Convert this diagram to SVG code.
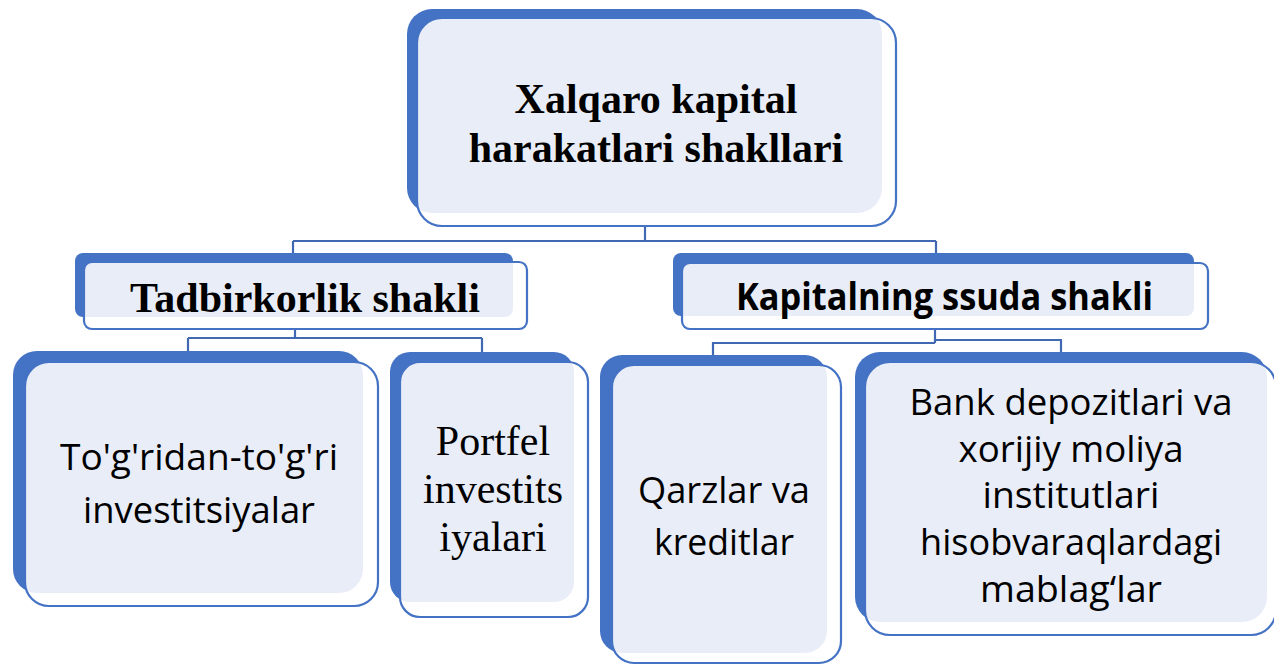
<svg xmlns="http://www.w3.org/2000/svg" width="1274" height="665" viewBox="0 0 1274 665">
  <style>
    .back { fill: #4472C4; }
    .face { fill: #FFFFFF; }
    .tint { fill: #E9EDF7; }
    .edge { fill: none; stroke: #4472C4; stroke-width: 2.2; }
    .conn { fill: none; stroke: #4169B3; stroke-width: 2.2; }
    .serifB { font-family: "Liberation Serif", "Times New Roman", serif; font-weight: bold; font-size: 42px; fill: #000; text-anchor: middle; }
    .serif { font-family: "Liberation Serif", "Times New Roman", serif; font-size: 42px; fill: #000; text-anchor: middle; }
    .sansB { font-family: "Open Sans", "Noto Sans", sans-serif; font-weight: bold; font-size: 37px; fill: #000; text-anchor: middle; }
    .sans { font-family: "Open Sans", "Noto Sans", sans-serif; font-size: 37px; fill: #000; text-anchor: middle; }
  </style>
  <defs>
    <clipPath id="c-top"><rect x="417" y="18" width="479" height="208" rx="25"/></clipPath>
    <clipPath id="c-tad"><rect x="84" y="262" width="443" height="67" rx="8"/></clipPath>
    <clipPath id="c-kap"><rect x="682" y="263" width="526" height="66" rx="8"/></clipPath>
    <clipPath id="c-tog"><rect x="25" y="362" width="353" height="244" rx="24"/></clipPath>
    <clipPath id="c-por"><rect x="400" y="362" width="188" height="255" rx="20"/></clipPath>
    <clipPath id="c-qar"><rect x="612" y="365" width="229" height="298" rx="22"/></clipPath>
    <clipPath id="c-ban"><rect x="865" y="362" width="411" height="273" rx="25"/></clipPath>
  </defs>

  <g id="connectors">
    <path class="conn" d="M645,226 V241 M293,241 H936 M293,241 V253 M936,241 V253"/>
    <path class="conn" d="M295,329 V338 M188,338 H482 M188,338 V351 M482,338 V352"/>
    <path class="conn" d="M935,329 V343 M713,355 V343 H935 M935,340 H1061 V352"/>
  </g>

  <g id="node-top">
    <rect class="back" x="407" y="9" width="475" height="204" rx="25"/>
    <rect class="face" x="417" y="18" width="479" height="208" rx="25"/>
    <rect class="tint" x="407" y="9" width="475" height="204" rx="25" clip-path="url(#c-top)"/>
    <rect class="edge" x="417" y="18" width="479" height="208" rx="25"/>
    <text class="serifB" x="656" y="113">Xalqaro kapital</text>
    <text class="serifB" x="656" y="162">harakatlari shakllari</text>
  </g>

  <g id="node-tadbirkorlik">
    <rect class="back" x="75" y="253" width="438" height="64" rx="8"/>
    <rect class="face" x="84" y="262" width="443" height="67" rx="8"/>
    <rect class="tint" x="75" y="253" width="438" height="64" rx="8" clip-path="url(#c-tad)"/>
    <rect class="edge" x="84" y="262" width="443" height="67" rx="8"/>
    <text class="serifB" x="305" y="312">Tadbirkorlik shakli</text>
  </g>

  <g id="node-kapitalning">
    <rect class="back" x="673" y="253" width="521" height="63" rx="8"/>
    <rect class="face" x="682" y="263" width="526" height="66" rx="8"/>
    <rect class="tint" x="673" y="253" width="521" height="63" rx="8" clip-path="url(#c-kap)"/>
    <rect class="edge" x="682" y="263" width="526" height="66" rx="8"/>
    <text class="sansB" x="944.5" y="310" textLength="417" lengthAdjust="spacingAndGlyphs">Kapitalning ssuda shakli</text>
  </g>

  <g id="node-togridan">
    <rect class="back" x="13" y="351" width="350" height="242" rx="24"/>
    <rect class="face" x="25" y="362" width="353" height="244" rx="24"/>
    <rect class="tint" x="13" y="351" width="350" height="242" rx="24" clip-path="url(#c-tog)"/>
    <rect class="edge" x="25" y="362" width="353" height="244" rx="24"/>
    <text class="sans" x="199" y="470" textLength="278" lengthAdjust="spacingAndGlyphs">To'g'ridan-to'g'ri</text>
    <text class="sans" x="199" y="523" textLength="232" lengthAdjust="spacingAndGlyphs">investitsiyalar</text>
  </g>

  <g id="node-portfel">
    <rect class="back" x="390" y="352" width="184" height="250" rx="20"/>
    <rect class="face" x="400" y="362" width="188" height="255" rx="20"/>
    <rect class="tint" x="390" y="352" width="184" height="250" rx="20" clip-path="url(#c-por)"/>
    <rect class="edge" x="400" y="362" width="188" height="255" rx="20"/>
    <text class="serif" x="493" y="455">Portfel</text>
    <text class="serif" x="493" y="503">investits</text>
    <text class="serif" x="493" y="551">iyalari</text>
  </g>

  <g id="node-qarzlar">
    <rect class="back" x="600" y="355" width="227" height="298" rx="22"/>
    <rect class="face" x="612" y="365" width="229" height="298" rx="22"/>
    <rect class="tint" x="600" y="355" width="227" height="298" rx="22" clip-path="url(#c-qar)"/>
    <rect class="edge" x="612" y="365" width="229" height="298" rx="22"/>
    <text class="sans" x="724" y="503" textLength="172" lengthAdjust="spacingAndGlyphs">Qarzlar va</text>
    <text class="sans" x="724" y="555" textLength="140" lengthAdjust="spacingAndGlyphs">kreditlar</text>
  </g>

  <g id="node-bank">
    <rect class="back" x="855" y="352" width="412" height="270" rx="25"/>
    <rect class="face" x="865" y="362" width="411" height="273" rx="25"/>
    <rect class="tint" x="855" y="352" width="412" height="270" rx="25" clip-path="url(#c-ban)"/>
    <rect class="edge" x="865" y="362" width="411" height="273" rx="25"/>
    <text class="sans" x="1071" y="415" textLength="323" lengthAdjust="spacingAndGlyphs">Bank depozitlari va</text>
    <text class="sans" x="1071" y="462" textLength="225" lengthAdjust="spacingAndGlyphs">xorijiy moliya</text>
    <text class="sans" x="1071" y="508" textLength="177" lengthAdjust="spacingAndGlyphs">institutlari</text>
    <text class="sans" x="1071" y="555" textLength="302" lengthAdjust="spacingAndGlyphs">hisobvaraqlardagi</text>
    <text class="sans" x="1071" y="602" textLength="182" lengthAdjust="spacingAndGlyphs">mablag‘lar</text>
  </g>
</svg>
